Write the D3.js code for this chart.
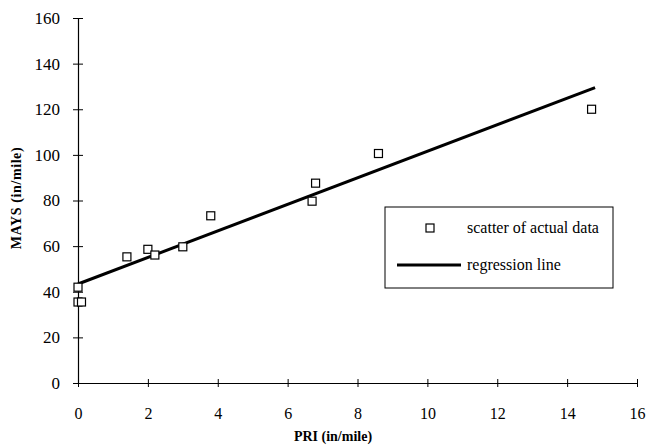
<!DOCTYPE html>
<html>
<head>
<meta charset="utf-8">
<script src="https://cdn.jsdelivr.net/npm/d3@7"></script>
<style>
  body { margin: 0; background: #fff; }
  svg text { font-family: "Liberation Serif", "Times New Roman", serif; fill: #000; }
</style>
</head>
<body>
<svg id="chart" width="648" height="447"></svg>
<script>
// observed data (PRI vs MAYS)
const priValues = [0, 0, 0.1, 1.4, 2.0, 2.2, 3.0, 3.8, 6.7, 6.8, 8.6, 14.7]
const maysValues = [42, 35.5, 35.5, 55.3, 58.6, 56.1, 59.7, 73.3, 79.7, 87.6, 100.6, 120]
// regression line end points
const lineX = [0, 14.8]
const lineY = [43.4, 129.5]
const xTicks = [0, 2, 4, 6, 8, 10, 12, 14, 16]
const yTicks = [0, 20, 40, 60, 80, 100, 120, 140, 160]

const svg = d3.select('#chart')
const x = d3.scaleLinear().domain([0, 16]).range([78, 637])
const y = d3.scaleLinear().domain([0, 160]).range([383, 18])

// axes, ticks cross the line
const xAxis = d3.axisBottom(x).tickValues(xTicks).tickSizeInner(4).tickSizeOuter(0).tickPadding(21)
const gx = svg.append('g').attr('transform', `translate(0,${y(0)})`).call(xAxis)
gx.selectAll('.tick line').attr('y1', -4)
gx.select('.domain').attr('stroke-width', 1.2)
gx.selectAll('text').style('font-size', '16px').attr('font-family', null)

const yAxis = d3.axisLeft(y).tickValues(yTicks).tickSizeInner(5).tickSizeOuter(0).tickPadding(13)
const gy = svg.append('g').attr('transform', `translate(${x(0)},0)`).call(yAxis)
gy.selectAll('.tick line').attr('x1', 5).attr('x2', -5)
gy.select('.domain').attr('stroke-width', 1.2)
gy.selectAll('text').style('font-size', '17px').attr('font-family', null)

// axis titles
svg.append('text')
  .attr('x', 333).attr('y', 441)
  .attr('text-anchor', 'middle')
  .style('font-size', '14px').style('font-weight', 'bold')
  .text('PRI (in/mile)')
svg.append('text')
  .attr('transform', 'translate(21,198) rotate(-90)')
  .attr('text-anchor', 'middle')
  .style('font-size', '14px').style('font-weight', 'bold')
  .style('letter-spacing', '0.6px')
  .text('MAYS (in/mile)')

// regression line
svg.append('line')
  .attr('x1', x(lineX[0])).attr('y1', y(lineY[0]))
  .attr('x2', x(lineX[1])).attr('y2', y(lineY[1]))
  .attr('stroke', '#000').attr('stroke-width', 3)

// scatter points
const sq = 8
svg.selectAll('rect.pt')
  .data(priValues.map((d, i) => [d, maysValues[i]]))
  .enter()
  .append('rect')
  .attr('class', 'pt')
  .attr('x', d => x(d[0]) - sq / 2)
  .attr('y', d => y(d[1]) - sq / 2)
  .attr('width', sq).attr('height', sq)
  .attr('fill', '#fff').attr('stroke', '#000').attr('stroke-width', 1.2)

// legend
const legend = svg.append('g')
legend.append('rect')
  .attr('x', 385).attr('y', 207).attr('width', 228).attr('height', 81)
  .attr('fill', '#fff').attr('stroke', '#000').attr('stroke-width', 1)
legend.append('rect')
  .attr('x', 430 - sq / 2).attr('y', 228 - sq / 2).attr('width', sq).attr('height', sq)
  .attr('fill', '#fff').attr('stroke', '#000').attr('stroke-width', 1.2)
legend.append('text')
  .attr('x', 467).attr('y', 233)
  .style('font-size', '16px')
  .text('scatter of actual data')
legend.append('line')
  .attr('x1', 397).attr('x2', 461).attr('y1', 265).attr('y2', 265)
  .attr('stroke', '#000').attr('stroke-width', 3)
legend.append('text')
  .attr('x', 467).attr('y', 270)
  .style('font-size', '16px')
  .text('regression line')
</script>
</body>
</html>
